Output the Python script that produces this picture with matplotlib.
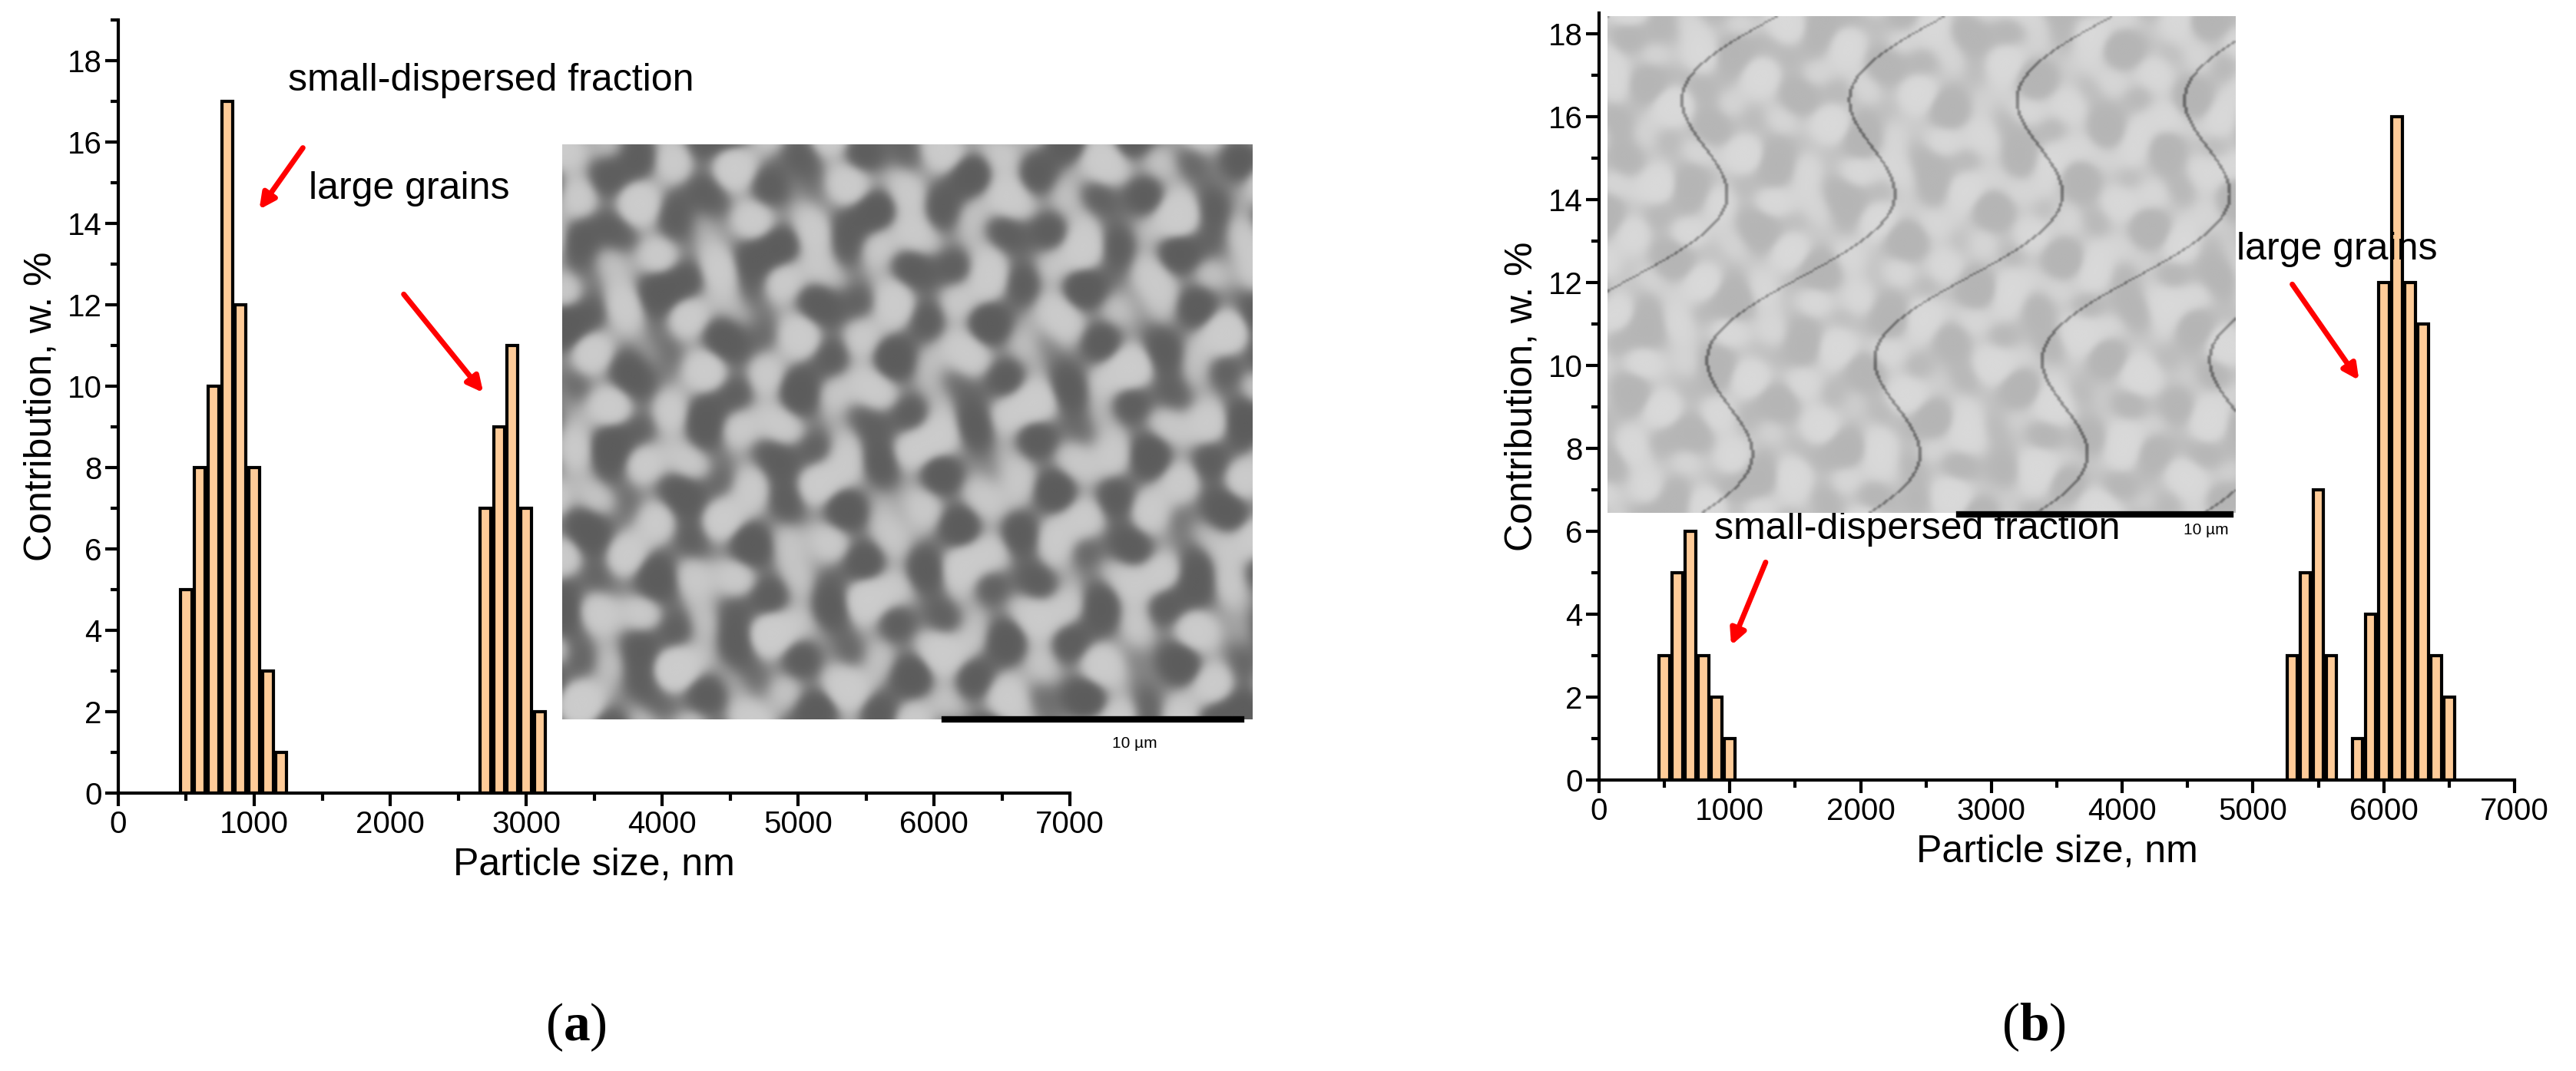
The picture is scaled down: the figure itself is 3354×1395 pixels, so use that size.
import numpy as np
import matplotlib
matplotlib.use("Agg")
import matplotlib.pyplot as plt
from matplotlib.ticker import MultipleLocator

# bar data
sizes_a = [500, 600, 700, 800, 900, 1000, 1100, 1200, 2700, 2800, 2900, 3000, 3100]
contrib_a = [5, 8, 10, 17, 12, 8, 3, 1, 7, 9, 11, 7, 2]
sizes_b = [500, 600, 700, 800, 900, 1000,
           5300, 5400, 5500, 5600, 5800, 5900, 6000, 6100, 6200, 6300, 6400, 6500]
contrib_b = [3, 5, 6, 3, 2, 1,
             3, 5, 7, 3, 1, 4, 12, 16, 12, 11, 3, 2]

plt.rcParams['font.family'] = ['Liberation Sans', 'DejaVu Sans']
plt.rcParams['mathtext.fontset'] = 'custom'
plt.rcParams['mathtext.bf'] = 'Liberation Serif:bold'
plt.rcParams['mathtext.rm'] = 'Liberation Serif'

W, H = 3355, 1395
fig = plt.figure(figsize=(W / 100, H / 100), dpi=100)


def px_axes(x0, y0, x1, y1):
    return fig.add_axes([x0 / W, 1 - y1 / H, (x1 - x0) / W, (y1 - y0) / H])


def style(ax, ymax):
    ax.set_xlim(0, 7000)
    ax.set_ylim(0, ymax)
    for s in ['top', 'right']:
        ax.spines[s].set_visible(False)
    for s in ['left', 'bottom']:
        ax.spines[s].set_linewidth(3)
    ax.xaxis.set_major_locator(MultipleLocator(1000))
    ax.xaxis.set_minor_locator(MultipleLocator(500))
    ax.yaxis.set_major_locator(MultipleLocator(2))
    ax.yaxis.set_minor_locator(MultipleLocator(1))
    ax.tick_params(which='major', direction='out', length=12, width=3, labelsize=29)
    ax.tick_params(which='minor', direction='out', length=7, width=3)
    ax.set_xlabel('Particle size, nm', fontsize=36, labelpad=8)
    ax.set_ylabel('Contribution, w. %', fontsize=36, labelpad=8)


def texture(shift, light):
    y, x = np.mgrid[0:300, 0:380] / 10.0
    z = np.zeros_like(x)
    for k, (fx, fy, ph) in enumerate([(1.31, 0.42, 0.3), (0.57, 1.73, 1.1), (2.11, -0.93, 2.0),
                                      (-0.83, 1.17, 0.7), (1.67, 1.41, 2.9), (0.29, -2.37, 1.6)]):
        z += np.sin(fx * x + fy * y + ph + shift * k) / (1 + 0.3 * k)
    z = np.tanh(z)
    if light:
        lines = np.abs(np.sin(0.31 * x + 0.17 * y + np.sin(0.4 * y))) < 0.03
        z = 0.78 + 0.07 * z - 0.3 * lines
    else:
        z = 0.58 + 0.22 * z
    return np.clip(z, 0, 1)


def inset(x0, y0, x1, y1, light, bar, label_xy):
    iax = px_axes(x0, y0, x1, y1)
    iax.imshow(texture(1.0 if light else 0.0, light), cmap='gray', vmin=0, vmax=1,
               aspect='auto', interpolation='bicubic')
    iax.axis('off')
    fig.add_artist(plt.Line2D([bar[0] / W, bar[1] / W], [1 - bar[2] / H] * 2,
                              color='black', lw=6))
    fig.text(label_xy[0] / W, 1 - label_xy[1] / H, '10 µm', fontsize=15,
             ha='center', va='center')


arrow = dict(arrowstyle='-|>,head_width=0.6,head_length=1.2', color='red', lw=5)

# panel (a)
ax_a = px_axes(154, 26, 1393, 1033)
ax_a.bar(sizes_a, contrib_a, width=80, color='#fecb98', edgecolor='black', linewidth=3)
style(ax_a, 19)
ax_a.annotate('', xy=(1028, 14.3), xytext=(1367, 15.9), arrowprops=arrow)
ax_a.text(1250, 17.5, 'small-dispersed fraction', fontsize=36, va='center')
ax_a.text(1400, 14.85, 'large grains', fontsize=36, va='center')
ax_a.annotate('', xy=(2695, 9.8), xytext=(2090, 12.3), arrowprops=arrow)
inset(732, 188, 1631, 937, False, (1230, 1616, 937), (1477, 968))

# panel (b)
ax_b = px_axes(2082, 17, 3274, 1016)
ax_b.bar(sizes_b, contrib_b, width=80, color='#fecb98', edgecolor='black', linewidth=3)
style(ax_b, 18.5)
ax_b.text(881, 6.05, 'small-dispersed fraction', fontsize=36, va='center')
ax_b.annotate('', xy=(1004, 3.2), xytext=(1280, 5.3), arrowprops=arrow)
ax_b.text(4874, 12.8, 'large grains', fontsize=36, va='center')
ax_b.annotate('', xy=(5820, 9.6), xytext=(5291, 12.0), arrowprops=arrow)
inset(2093, 21, 2911, 668, True, (2551, 2904, 670), (2872, 691))

# panel letters
for xpix, letter in [(750, 'a'), (2648, 'b')]:
    fig.text(xpix / W, 1 - 1338 / H, r'$\mathrm{(}\mathbf{' + letter + r'}\mathrm{)}$',
             fontsize=50, ha='center', va='center')

fig.savefig('out.png', dpi=100)
